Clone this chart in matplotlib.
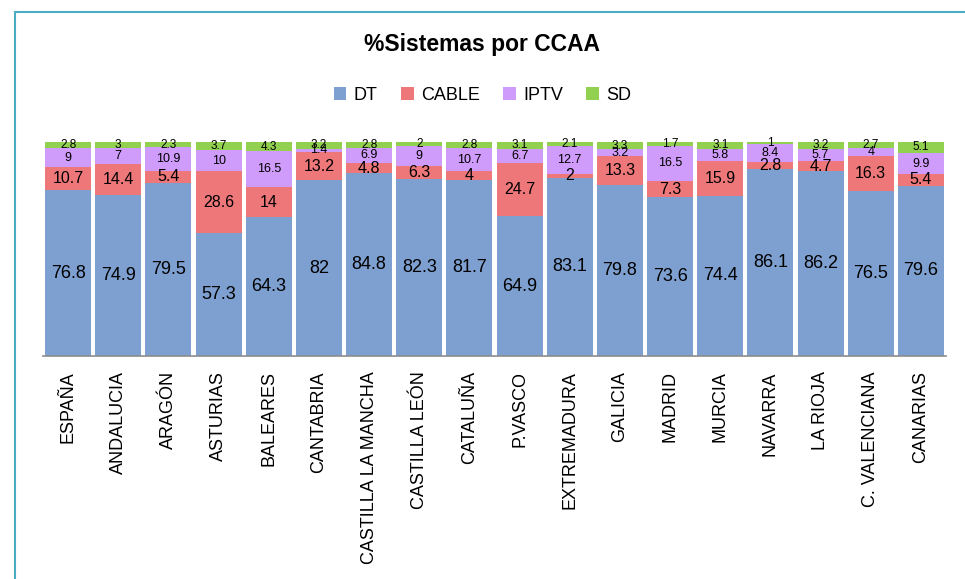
import numpy as np
from matplotlib import pyplot as plt
from matplotlib.patches import Rectangle

regiones = ["ESPAÑA", "ANDALUCIA", "ARAGÓN", "ASTURIAS", "BALEARES", "CANTABRIA",
            "CASTILLA LA MANCHA", "CASTILLA LEÓN", "CATALUÑA", "P.VASCO", "EXTREMADURA",
            "GALICIA", "MADRID", "MURCIA", "NAVARRA", "LA RIOJA", "C. VALENCIANA", "CANARIAS"]
dt = [76.8, 74.9, 79.5, 57.3, 64.3, 82, 84.8, 82.3, 81.7, 64.9, 83.1, 79.8, 73.6, 74.4, 86.1, 86.2, 76.5, 79.6]
cable = [10.7, 14.4, 5.4, 28.6, 14, 13.2, 4.8, 6.3, 4, 24.7, 2, 13.3, 7.3, 15.9, 2.8, 4.7, 16.3, 5.4]
iptv = [9, 7, 10.9, 10, 16.5, 1.4, 6.9, 9, 10.7, 6.7, 12.7, 3.2, 16.5, 5.8, 8.4, 5.7, 4, 9.9]
sd = [2.8, 3, 2.3, 3.7, 4.3, 3.2, 2.8, 2, 2.8, 3.1, 2.1, 3.3, 1.7, 3.1, 1, 3.2, 2.7, 5.1]

series = [("DT", dt, "#7ea0d0", 13), ("CABLE", cable, "#ee777a", 11.5),
          ("IPTV", iptv, "#cf9cfb", 9), ("SD", sd, "#92d050", 8.5)]

plt.rcParams['font.family'] = ['Liberation Sans', 'DejaVu Sans']

fig = plt.figure(figsize=(9.65, 5.79), dpi=100)
fig.patches.append(Rectangle((15 / 965, -0.05), 1.0, 1 - 12 / 579 + 0.05, transform=fig.transFigure,
                             fill=False, edgecolor="#4bacc6", linewidth=1.5))
ax = fig.add_axes([43 / 965, 1 - 356 / 579, 903 / 965, 214 / 579])

x = np.arange(len(regiones))
total = np.array(dt) + np.array(cable) + np.array(iptv) + np.array(sd)
bottom = np.zeros(len(regiones))
for name, vals, color, fs in series:
    v = np.array(vals, dtype=float)
    h = v / total * 100
    ax.bar(x, h, 0.92, bottom=bottom, color=color, label=name, linewidth=0)
    for xi, b, hi, val in zip(x, bottom, h, vals):
        ax.text(xi, b + hi / 2, "{0:g}".format(val), ha="center", va="center", fontsize=fs)
    bottom += h

ax.set_xlim(-0.5, len(regiones) - 0.5)
ax.set_ylim(0, 100)
ax.set_yticks([])
for s in ["top", "right", "left"]:
    ax.spines[s].set_visible(False)
ax.spines["bottom"].set_color("#8c8c8c")
ax.spines["bottom"].set_linewidth(1.2)
ax.set_xticks(x)
ax.set_xticklabels(regiones, rotation=90, fontsize=13)
ax.tick_params(axis="x", length=0, pad=11)

fig.text(0.5, 1 - 45 / 579, "%Sistemas por CCAA", ha="center", va="center", fontsize=16.5, fontweight="bold")
fig.legend(loc="center", bbox_to_anchor=(0.5, 1 - 95 / 579), ncol=4, frameon=False, fontsize=13,
           handlelength=0.7, handleheight=0.7, handletextpad=0.4, columnspacing=1.3)

fig.savefig("out.png", dpi=100)
